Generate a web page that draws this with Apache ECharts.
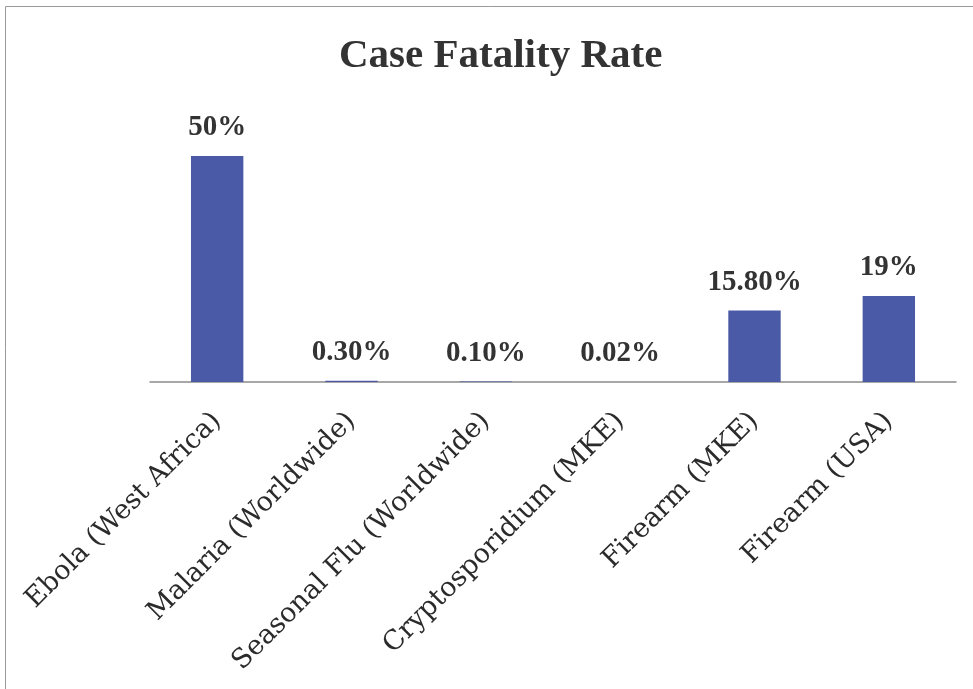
<!DOCTYPE html>
<html>
<head>
<meta charset="utf-8">
<script src="https://cdn.jsdelivr.net/npm/echarts@6/dist/echarts.min.js"></script>
<style>
  html, body { margin: 0; padding: 0; background: #fff; }
  #chart { width: 973px; height: 689px; }
</style>
</head>
<body>
<div id="chart"></div>
<script>
// categories and values
var categories = ['Ebola (West Africa)', 'Malaria (Worldwide)', 'Seasonal Flu (Worldwide)',
  'Cryptosporidium (MKE)', 'Firearm (MKE)', 'Firearm (USA)'];
var rates = [50, 0.3, 0.1, 0.02, 15.8, 19];
var rateLabels = ['50%', '0.30%', '0.10%', '0.02%', '15.80%', '19%'];

var myChart = echarts.init(document.getElementById('chart'));

var option = {
  animation: false,
  title: {
    text: 'Case Fatality Rate',
    left: 334,
    top: 31,
    textStyle: {
      fontFamily: 'Liberation Serif',
      fontWeight: 'bold',
      fontSize: 41,
      color: '#333'
    }
  },
  graphic: [{
    type: 'rect',
    shape: { x: 5.5, y: 6.5, width: 1000, height: 700 },
    style: { fill: 'none', stroke: '#999', lineWidth: 1 }
  }],
  grid: {
    left: 150,
    right: 17,
    top: 156,
    bottom: 307
  },
  xAxis: {
    type: 'category',
    data: categories,
    axisLine: {
      lineStyle: { color: '#8a8a8a', width: 1.5 }
    },
    axisTick: { show: false },
    axisLabel: {
      rotate: 45,
      margin: 35,
      interval: 0,
      color: '#2b2b2b',
      fontFamily: 'DejaVu Serif',
      fontSize: 27
    }
  },
  yAxis: {
    type: 'value',
    min: 0,
    max: 50,
    show: false,
    splitLine: { show: false }
  },
  series: [{
    type: 'bar',
    data: rates,
    barWidth: '39%',
    itemStyle: { color: '#4b5aa7' },
    label: {
      show: true,
      position: 'top',
      distance: 14,
      color: '#333',
      fontFamily: 'Liberation Serif',
      fontWeight: 'bold',
      fontSize: 29,
      formatter: function (p) {
        return rateLabels[p.dataIndex];
      }
    }
  }]
};

myChart.setOption(option);
</script>
</body>
</html>
